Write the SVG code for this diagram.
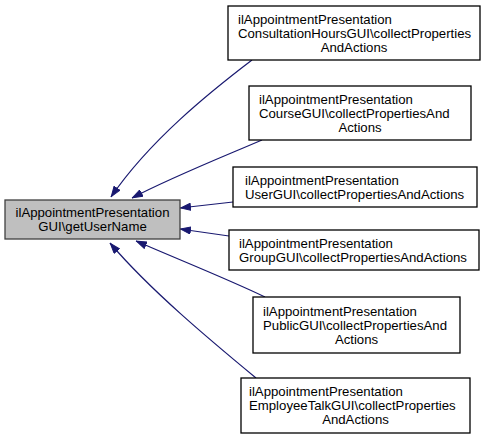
<svg xmlns="http://www.w3.org/2000/svg" width="488" height="439" viewBox="0 0 488 439">
<style>
.n rect{fill:#ffffff;stroke:#000000;stroke-width:1.3}
.m rect{fill:#bfbfbf;stroke:#404040;stroke-width:1.3}
text{font-family:"Liberation Sans",Arial,sans-serif;font-size:13.2px;fill:#000000}
.c{text-anchor:middle}
.e path{fill:none;stroke:#191970;stroke-width:1.2;marker-end:url(#ah)}
</style>
<defs>
<marker id="ah" viewBox="0 0 11 8" refX="11" refY="4" markerWidth="11" markerHeight="8" markerUnits="userSpaceOnUse" orient="auto">
<path d="M0.5,0.5 L10.5,4 L0.5,7.5 z" fill="#191970" stroke="#191970" stroke-width="1"/>
</marker>
</defs>
<rect width="488" height="439" fill="#ffffff"/>
<g class="e" id="connectors">
<path d="M252,60 C210,92 150,140 111,197"/>
<path d="M262,140 C220,158 170,178 132,198"/>
<path d="M233,202 L180,208"/>
<path d="M229,236 L180,229"/>
<path d="M265,297 C230,280 175,258 136,241"/>
<path d="M256,378 C210,340 150,290 110,243"/>
</g>
<g class="m" id="main">
<rect x="5" y="200" width="175" height="39"/>
<text class="c" x="92.5" y="217.1">ilAppointmentPresentation</text>
<text class="c" x="92.5" y="231.1">GUI\getUserName</text>
</g>
<g class="n" id="consultation">
<rect x="228" y="6" width="252" height="54"/>
<text x="238" y="23.6">ilAppointmentPresentation</text>
<text x="238" y="37.6">ConsultationHoursGUI\collectProperties</text>
<text class="c" x="354" y="51.6">AndActions</text>
</g>
<g class="n" id="course">
<rect x="249" y="86" width="222" height="54"/>
<text x="259" y="103.6">ilAppointmentPresentation</text>
<text x="259" y="117.6">CourseGUI\collectPropertiesAnd</text>
<text class="c" x="360" y="131.6">Actions</text>
</g>
<g class="n" id="user">
<rect x="233" y="167" width="244" height="40"/>
<text x="245" y="184.6">ilAppointmentPresentation</text>
<text x="245" y="198.6">UserGUI\collectPropertiesAndActions</text>
</g>
<g class="n" id="group">
<rect x="229" y="230" width="250" height="40"/>
<text x="239" y="247.6">ilAppointmentPresentation</text>
<text x="239" y="261.6">GroupGUI\collectPropertiesAndActions</text>
</g>
<g class="n" id="public">
<rect x="253" y="297" width="207" height="56"/>
<text x="263" y="315.6">ilAppointmentPresentation</text>
<text x="263" y="329.6">PublicGUI\collectPropertiesAnd</text>
<text class="c" x="356.5" y="343.6">Actions</text>
</g>
<g class="n" id="employee">
<rect x="241" y="378" width="229" height="55"/>
<text x="249" y="396.1">ilAppointmentPresentation</text>
<text x="249" y="410.1">EmployeeTalkGUI\collectProperties</text>
<text class="c" x="355.5" y="424.1">AndActions</text>
</g>
</svg>
